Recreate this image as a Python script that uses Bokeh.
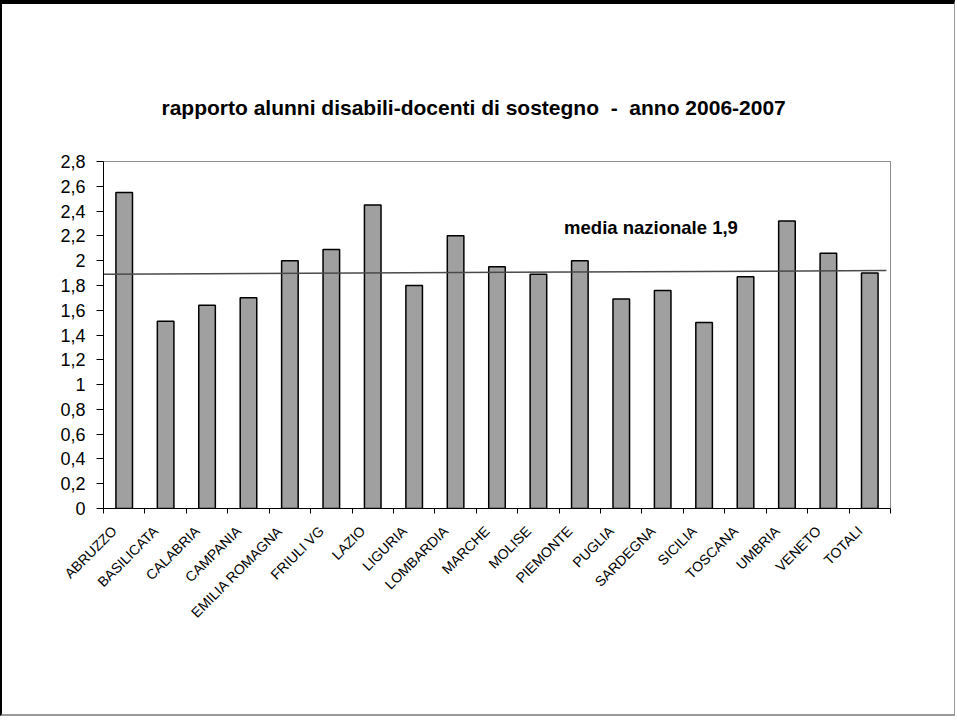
import math
from bokeh.plotting import figure
from bokeh.models import Range1d, FixedTicker, Label
from bokeh.embed import file_html
from bokeh.resources import INLINE

# ---- data ----
regions = ["ABRUZZO", "BASILICATA", "CALABRIA", "CAMPANIA", "EMILIA ROMAGNA",
           "FRIULI VG", "LAZIO", "LIGURIA", "LOMBARDIA", "MARCHE", "MOLISE",
           "PIEMONTE", "PUGLIA", "SARDEGNA", "SICILIA", "TOSCANA", "UMBRIA",
           "VENETO", "TOTALI"]
ratios = [2.55, 1.51, 1.64, 1.70, 2.00, 2.09, 2.45, 1.80, 2.20, 1.95, 1.89,
          2.00, 1.69, 1.76, 1.50, 1.87, 2.32, 2.06, 1.90]
y_ticks = [0, 0.2, 0.4, 0.6, 0.8, 1, 1.2, 1.4, 1.6, 1.8, 2, 2.2, 2.4, 2.6, 2.8]
y_tick_labels = ["0", "0,2", "0,4", "0,6", "0,8", "1", "1,2", "1,4", "1,6",
                 "1,8", "2", "2,2", "2,4", "2,6", "2,8"]
media_x = [0, 18.9]          # national average line (hand drawn, slightly sloped)
media_y = [1.89, 1.92]
media_label = "media nazionale 1,9"
title_text = "rapporto alunni disabili-docenti di sostegno \u00a0-\u00a0 anno 2006-2007"

n = len(regions)
xc = [i + 0.5 for i in range(n)]
label_pos = [x - 0.24 for x in xc]   # Excel places rotated labels slightly left of centre
FONT = "Liberation Sans"

p = figure(width=955, height=716,
           x_range=Range1d(0, n), y_range=Range1d(0, 2.8),
           output_backend="svg", toolbar_location=None,
           min_border_left=101, min_border_right=67,
           min_border_top=157, min_border_bottom=212)
p.styles = {"border-left": "2px solid black", "border-top": "4px solid black",
            "border-right": "1px solid #999999", "border-bottom": "2px solid #999999"}
p.border_fill_color = None
p.background_fill_color = "white"

p.xgrid.visible = False
p.ygrid.visible = False
p.outline_line_color = "#8c8c8c"
p.outline_line_width = 1

p.vbar(x=xc, top=ratios, width=0.4, fill_color="#A0A0A0",
       line_color="black", line_width=1.5)
p.line(x=media_x, y=media_y, line_color="#4a4a4a", line_width=1.5)

p.add_layout(Label(x=11.12, y=2.265, text=media_label, text_font=FONT,
                   text_font_size="18.5px", text_font_style="bold",
                   text_color="black", text_baseline="alphabetic"))

# x axis
xa = p.xaxis[0]
xa.ticker = FixedTicker(ticks=label_pos, minor_ticks=list(range(n + 1)))
xa.major_label_overrides = {x: r for x, r in zip(label_pos, regions)}
xa.major_tick_line_color = None
xa.major_tick_out = 0
xa.major_tick_in = 0
xa.minor_tick_line_color = "black"
xa.minor_tick_out = 5
xa.minor_tick_in = 0
xa.major_label_orientation = math.pi / 4
xa.major_label_standoff = 15
xa.major_label_text_font = FONT
xa.major_label_text_font_size = "14px"
xa.major_label_text_color = "black"
xa.axis_line_color = "black"

# y axis
ya = p.yaxis[0]
ya.ticker = FixedTicker(ticks=y_ticks, minor_ticks=[])
ya.major_label_overrides = {t: s for t, s in zip(y_ticks, y_tick_labels)}
ya.major_tick_out = 7
ya.major_tick_in = 0
ya.major_tick_line_color = "black"
ya.major_label_standoff = 11
ya.major_label_text_font = FONT
ya.major_label_text_font_size = "18px"
ya.major_label_text_color = "black"
ya.axis_line_color = "black"

p.title.text = title_text
p.title.text_font = FONT
p.title.text_font_size = "21px"
p.title.text_font_style = "bold"
p.title.text_color = "black"
p.title.align = "left"
p.title.offset = 58
p.title.standoff = 86

open("out.html", "w").write(file_html(p, INLINE))
